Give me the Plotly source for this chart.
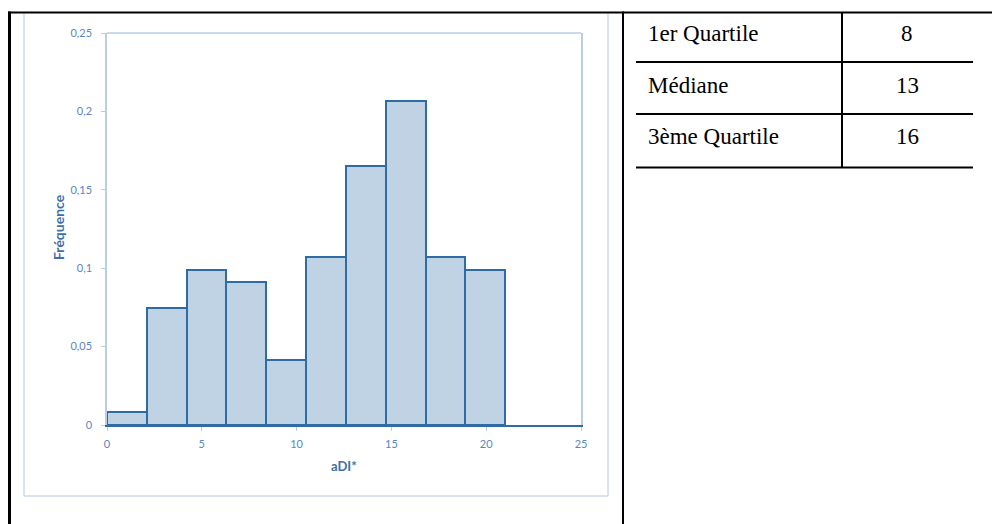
import plotly.graph_objects as go

# ---- data ----
bin_edges = [0, 2.1, 4.2, 6.3, 8.4, 10.5, 12.6, 14.7, 16.8, 18.9, 21.0]
counts = [1, 9, 12, 11, 5, 13, 20, 25, 13, 12]
total = sum(counts)
frequencies = [c / total for c in counts]

y_tickvals = [0, 0.05, 0.1, 0.15, 0.2, 0.25]
y_ticktext = ["0", "0,05", "0,1", "0,15", "0,2", "0,25"]
x_tickvals = [0, 5, 10, 15, 20, 25]
x_ticktext = ["0", "5", "10", "15", "20", "25"]

table_labels = ["1er Quartile", "Médiane", "3ème Quartile"]
table_values = ["8", "13", "16"]

# ---- geometry (pixel layout of the page; the page body has an 8px margin) ----
OFF = 8
W, H = 1000 - OFF, 524 - OFF
PL, PR, PT, PB = 107, 581, 33, 425  # plot area in page pixels


def px(x):
    return (x - PL) / (PR - PL)


def py(y):
    return (PB - y) / (PB - PT)


centers = [(a + b) / 2 for a, b in zip(bin_edges[:-1], bin_edges[1:])]
widths = [b - a for a, b in zip(bin_edges[:-1], bin_edges[1:])]

fig = go.Figure()
fig.add_trace(go.Bar(
    x=centers, y=frequencies, width=widths,
    marker=dict(color="#C0D3E5", line=dict(color="#2F6CA5", width=2)),
    hoverinfo="skip",
))

tick_color = "#5A86BE"
axis_light = "#B9CDE4"
font_fam = "Lato, 'Open Sans', sans-serif"

fig.update_layout(
    width=W, height=H,
    margin=dict(l=PL - OFF, r=1000 - PR, t=PT - OFF, b=524 - PB),
    paper_bgcolor="white", plot_bgcolor="white",
    showlegend=False, bargap=0,
    xaxis=dict(
        range=[0, 25], tickvals=x_tickvals, ticktext=x_ticktext,
        showgrid=False, zeroline=False,
        showline=True, linecolor="#2F6CA5", linewidth=2,
        ticks="outside", ticklen=4, tickcolor=axis_light, ticklabelstandoff=4,
        tickfont=dict(family=font_fam, size=11, color=tick_color),
    ),
    yaxis=dict(
        range=[0, 0.25], tickvals=y_tickvals, ticktext=y_ticktext,
        showgrid=False, zeroline=False,
        showline=True, linecolor=axis_light, linewidth=1.5, mirror=True,
        ticks="outside", ticklen=4, tickcolor=axis_light, ticklabelstandoff=7,
        tickfont=dict(family=font_fam, size=11, color=tick_color),
    ),
)

shapes = []
# top plot border (light)
shapes.append(dict(type="line", xref="paper", yref="paper", x0=0, x1=1, y0=1, y1=1,
                   line=dict(color=axis_light, width=1.5), layer="below"))
# chart area border
shapes.append(dict(type="rect", xref="paper", yref="paper",
                   x0=px(24), x1=px(608), y0=py(12.5), y1=py(496),
                   line=dict(color="#B3C8E0", width=1), layer="below"))
# page table borders (black)
black = "#000000"
shapes.append(dict(type="line", xref="paper", yref="paper", x0=px(8), x1=px(1000), y0=py(12.5), y1=py(12.5),
                   line=dict(color=black, width=2)))
shapes.append(dict(type="line", xref="paper", yref="paper", x0=px(9.5), x1=px(9.5), y0=py(11.5), y1=py(524),
                   line=dict(color=black, width=3)))
shapes.append(dict(type="line", xref="paper", yref="paper", x0=px(623), x1=px(623), y0=py(11.5), y1=py(524),
                   line=dict(color=black, width=2)))
# inner stats table
row_lines = [62, 114, 167.5]
for yl in row_lines:
    shapes.append(dict(type="line", xref="paper", yref="paper", x0=px(636), x1=px(973), y0=py(yl), y1=py(yl),
                       line=dict(color=black, width=2)))
shapes.append(dict(type="line", xref="paper", yref="paper", x0=px(842), x1=px(842), y0=py(12), y1=py(167.5),
                   line=dict(color=black, width=2)))
fig.update_layout(shapes=shapes)

annotations = []
row_centers = [33, 85, 136]
serif = "Liberation Serif, 'Times New Roman', serif"
for lab, val, yc in zip(table_labels, table_values, row_centers):
    annotations.append(dict(xref="paper", yref="paper", x=px(646), y=py(yc), text=lab,
                            xanchor="left", yanchor="middle", showarrow=False,
                            font=dict(family=serif, size=23, color="#000")))
    annotations.append(dict(xref="paper", yref="paper", x=px(907), y=py(yc), text=val,
                            xanchor="center", yanchor="middle", showarrow=False,
                            font=dict(family=serif, size=23, color="#000")))
# axis titles
annotations.append(dict(xref="paper", yref="paper", x=px(58), y=py(227), text="<b>Fréquence</b>",
                        textangle=-90, xanchor="center", yanchor="middle", showarrow=False,
                        font=dict(family=font_fam, size=14, color="#3E6FA8")))
annotations.append(dict(xref="paper", yref="paper", x=px(344), y=py(466), text="<b>aDI*</b>",
                        xanchor="center", yanchor="middle", showarrow=False,
                        font=dict(family=font_fam, size=13, color="#3E6FA8")))
fig.update_layout(annotations=annotations)

fig.write_html("out.html")
